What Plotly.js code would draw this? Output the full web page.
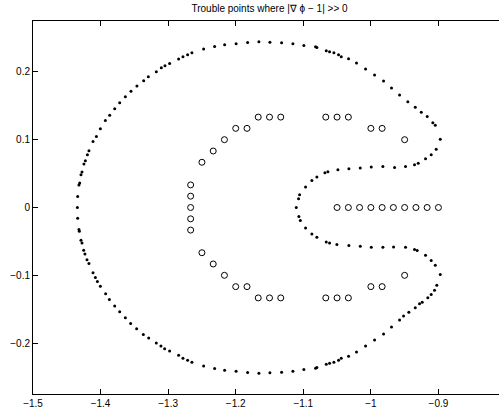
<!DOCTYPE html>
<html>
<head>
<meta charset="utf-8">
<script src="https://cdn.plot.ly/plotly-3.0.1.min.js"></script>
<style>
html,body{margin:0;padding:0;overflow:hidden;background:#fff;}
#chart{width:507px;height:415px;}
</style>
</head>
<body>
<div id="chart"></div>
<script>
// Boundary points (dots), upper half
const boundaryUpperX = [-1.1104,-1.1070,-1.1055,-1.0966,-1.0873,-1.0799,-1.0680,-1.0636,-1.0488,-1.0325,-1.0157,-0.9994,-0.9822,-0.9649,-0.9487,-0.9354,-0.9299,-0.9191,-0.9107,-0.9033,-0.8973,-0.9047,-0.9083,-0.9166,-0.9254,-0.9343,-0.9453,-0.9575,-0.9694,-0.9812,-0.9945,-1.0078,-1.0212,-1.0330,-1.0438,-1.0478,-1.0547,-1.0611,-1.0660,-1.0799,-1.0818,-1.0991,-1.1154,-1.1321,-1.1494,-1.1657,-1.1824,-1.1994,-1.2164,-1.2312,-1.2475,-1.2648,-1.2712,-1.2781,-1.2845,-1.2978,-1.3047,-1.3101,-1.3175,-1.3293,-1.3362,-1.3462,-1.3550,-1.3633,-1.3717,-1.3791,-1.3865,-1.3929,-1.4003,-1.4062,-1.4112,-1.4172,-1.4195,-1.4225,-1.4246,-1.4275,-1.4290,-1.4309,-1.4320,-1.4339,-1.4343];
const boundaryUpperY = [0.0000,0.0129,0.0188,0.0301,0.0399,0.0449,0.0512,0.0526,0.0556,0.0571,0.0581,0.0596,0.0604,0.0590,0.0604,0.0629,0.0654,0.0718,0.0776,0.0860,0.1007,0.1213,0.1251,0.1340,0.1404,0.1478,0.1560,0.1659,0.1762,0.1865,0.1953,0.2041,0.2129,0.2193,0.2222,0.2251,0.2281,0.2296,0.2310,0.2360,0.2369,0.2390,0.2413,0.2428,0.2438,0.2443,0.2434,0.2416,0.2401,0.2375,0.2338,0.2281,0.2251,0.2222,0.2188,0.2125,0.2090,0.2060,0.2001,0.1928,0.1869,0.1791,0.1713,0.1634,0.1546,0.1457,0.1360,0.1281,0.1163,0.1046,0.0972,0.0835,0.0776,0.0688,0.0640,0.0522,0.0482,0.0360,0.0331,0.0163,0.0000];
// Boundary points (dots), lower half
const boundaryLowerX = [-1.1065,-1.1044,-1.0966,-1.0873,-1.0799,-1.0660,-1.0611,-1.0503,-1.0325,-1.0157,-0.9994,-0.9822,-0.9664,-0.9487,-0.9354,-0.9314,-0.9191,-0.9107,-0.9047,-0.8973,-0.9024,-0.9058,-0.9107,-0.9157,-0.9240,-0.9280,-0.9343,-0.9438,-0.9516,-0.9575,-0.9694,-0.9812,-0.9945,-1.0078,-1.0212,-1.0330,-1.0438,-1.0478,-1.0547,-1.0611,-1.0660,-1.0799,-1.0818,-1.0991,-1.1154,-1.1321,-1.1494,-1.1657,-1.1824,-1.1994,-1.2164,-1.2312,-1.2475,-1.2648,-1.2712,-1.2781,-1.2845,-1.2978,-1.3052,-1.3107,-1.3175,-1.3288,-1.3367,-1.3466,-1.3555,-1.3633,-1.3717,-1.3791,-1.3870,-1.3925,-1.4003,-1.4047,-1.4077,-1.4112,-1.4172,-1.4201,-1.4231,-1.4250,-1.4275,-1.4290,-1.4314,-1.4320,-1.4339];
const boundaryLowerY = [-0.0131,-0.0190,-0.0301,-0.0390,-0.0440,-0.0507,-0.0522,-0.0547,-0.0562,-0.0572,-0.0587,-0.0587,-0.0581,-0.0587,-0.0621,-0.0635,-0.0704,-0.0782,-0.0851,-0.0988,-0.1146,-0.1219,-0.1282,-0.1331,-0.1396,-0.1419,-0.1478,-0.1543,-0.1601,-0.1659,-0.1762,-0.1865,-0.1953,-0.2041,-0.2129,-0.2193,-0.2222,-0.2251,-0.2281,-0.2296,-0.2310,-0.2360,-0.2369,-0.2390,-0.2413,-0.2428,-0.2438,-0.2443,-0.2434,-0.2416,-0.2401,-0.2375,-0.2338,-0.2281,-0.2251,-0.2222,-0.2179,-0.2116,-0.2081,-0.2043,-0.1999,-0.1925,-0.1871,-0.1787,-0.1709,-0.1625,-0.1537,-0.1454,-0.1356,-0.1272,-0.1160,-0.1091,-0.1032,-0.0963,-0.0826,-0.0772,-0.0684,-0.0631,-0.0522,-0.0484,-0.0351,-0.0326,-0.0160];
// Trouble points (open circles)
const troubleX = [-1.2667,-1.2667,-1.2667,-1.2667,-1.2667,-1.25,-1.25,-1.2333,-1.2333,-1.2167,-1.2167,-1.2,-1.2,-1.1833,-1.1833,-1.1667,-1.1667,-1.15,-1.15,-1.1333,-1.1333,-1.0667,-1.0667,-1.05,-1.05,-1.0333,-1.0333,-1.0,-1.0,-0.9833,-0.9833,-0.95,-0.95,-1.05,-1.0333,-1.0167,-1.0,-0.9833,-0.9667,-0.95,-0.9333,-0.9167,-0.9];
const troubleY = [0.0333,0.0167,0,-0.0167,-0.0333,0.0667,-0.0667,0.0833,-0.0833,0.1,-0.1,0.1167,-0.1167,0.1167,-0.1167,0.1333,-0.1333,0.1333,-0.1333,0.1333,-0.1333,0.1333,-0.1333,0.1333,-0.1333,0.1333,-0.1333,0.1167,-0.1167,0.1167,-0.1167,0.1,-0.1,0,0,0,0,0,0,0,0,0,0];
const xTicks = [-1.5,-1.4,-1.3,-1.2,-1.1,-1,-0.9,-0.8];
const xTickText = ['\u22121.5','\u22121.4','\u22121.3','\u22121.2','\u22121.1','\u22121','\u22120.9','\u22120.8'];
const yTicks = [-0.2,-0.1,0,0.1,0.2];
const yTickText = ['\u22120.2','\u22120.1','0','0.1','0.2'];
const titleText = 'Trouble points where |\u2207 \u03D5 \u2212 1| >> 0';

const traces = [
  {x: boundaryUpperX.concat(boundaryLowerX), y: boundaryUpperY.concat(boundaryLowerY),
   type:'scatter', mode:'markers', marker:{symbol:'circle', size:3, color:'#000'}, hoverinfo:'skip'},
  {x: troubleX, y: troubleY, type:'scatter', mode:'markers',
   marker:{symbol:'circle-open', size:6, color:'#000', line:{width:1, color:'#000'}}, hoverinfo:'skip'}
];
const axisCommon = {showgrid:false, zeroline:false, showline:true, linecolor:'#000', linewidth:1,
  mirror:'ticks', ticks:'inside', ticklen:5, tickwidth:1, tickcolor:'#000',
  tickfont:{family:'Liberation Sans, Arial, sans-serif', size:10, color:'#000'}};
const layout = {
  width:507, height:415,
  margin:{l:33, r:1, t:21, b:21},
  paper_bgcolor:'#fff', plot_bgcolor:'#fff',
  showlegend:false,
  title:{text:titleText, font:{family:'Liberation Sans, Arial, sans-serif', size:10, color:'#000'},
         xref:'paper', x:0.5, xanchor:'center', yref:'container', y:0.98, yanchor:'middle'},
  xaxis:Object.assign({}, axisCommon, {range:[-1.5,-0.8], tickvals:xTicks, ticktext:xTickText}),
  yaxis:Object.assign({}, axisCommon, {range:[-0.275,0.275], tickvals:yTicks, ticktext:yTickText})
};
Plotly.newPlot('chart', traces, layout, {displayModeBar:false, staticPlot:true});
</script>
</body>
</html>
